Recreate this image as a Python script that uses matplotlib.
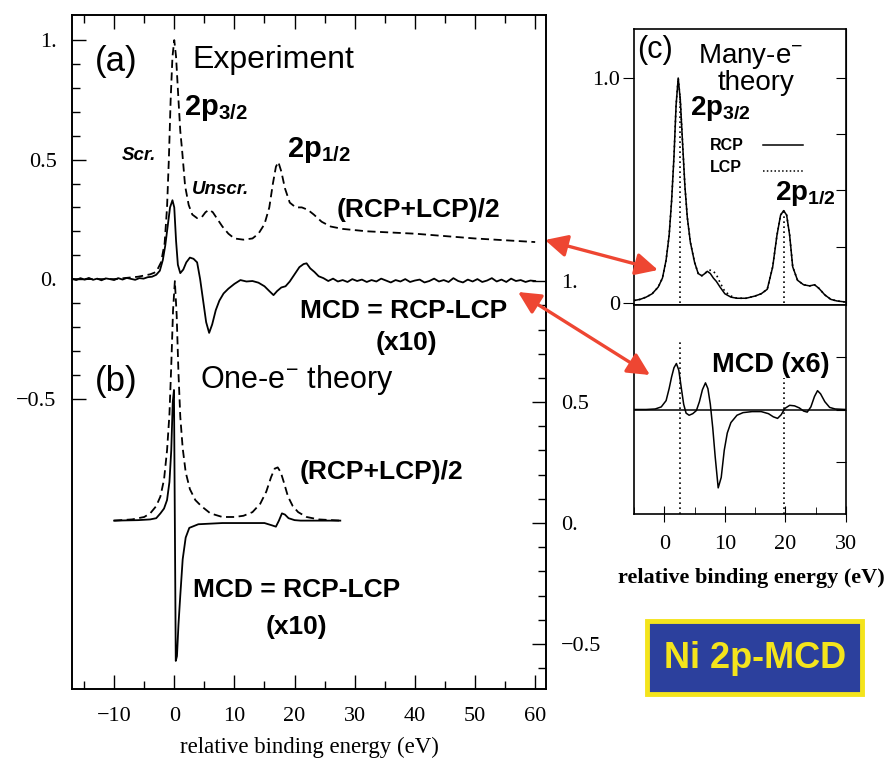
import numpy as np
import matplotlib.pyplot as plt
from matplotlib.patches import FancyArrowPatch, Rectangle
from matplotlib.lines import Line2D
from matplotlib.ticker import FixedLocator, FixedFormatter, MultipleLocator

plt.rcParams['font.family'] = ['Liberation Sans', 'DejaVu Sans']
plt.rcParams['mathtext.fontset'] = 'custom'
plt.rcParams['mathtext.rm'] = 'Liberation Sans'
plt.rcParams['mathtext.bf'] = 'Liberation Sans:bold'
plt.rcParams['mathtext.it'] = 'Liberation Sans:italic'

W, H = 895, 768
SERIF = 'Liberation Serif'

# ---- (a) experiment, left axis ----
exp_sum_E = [-17, -10, -6, -4, -3, -2.2, -1.6, -1.2, -0.9, -0.6, -0.3, 0.0, 0.3, 0.7, 1.0, 1.3,
             1.8, 2.4, 3.0, 3.8, 4.6, 5.2, 5.8, 6.4, 7.2, 8.0, 9.0, 10.0, 11.5, 13.0, 14.0, 15.0,
             15.8, 16.4, 16.9, 17.3, 17.8, 18.4, 19.2, 20.2, 21.2, 22.2, 23.2, 24.5, 26, 28, 32,
             40, 50, 60]
exp_sum = [0.0, 0.0, 0.01, 0.02, 0.03, 0.07, 0.15, 0.30, 0.50, 0.75, 0.93, 1.0, 0.93, 0.75, 0.62,
           0.54, 0.39, 0.31, 0.27, 0.255, 0.26, 0.28, 0.29, 0.28, 0.25, 0.22, 0.19, 0.17, 0.165,
           0.17, 0.19, 0.23, 0.30, 0.40, 0.47, 0.49, 0.45, 0.38, 0.32, 0.30, 0.30, 0.29, 0.27,
           0.24, 0.22, 0.21, 0.20, 0.19, 0.17, 0.155]

exp_mcd_E = [-17, -16.3, -15.6, -14.9, -14.2, -13.5, -12.8, -12.1, -11.4, -10.7, -10.0, -9.3,
             -8.6, -7.9, -7.2, -6.5, -5.8, -5.1, -4.4, -3.7, -3.0, -2.4, -1.9, -1.5, -1.1, -0.7,
             -0.3, 0.0, 0.3, 0.6, 1.0, 1.5, 2.0, 2.6, 3.2, 3.8, 4.3, 4.8, 5.3, 5.8, 6.3, 6.9,
             7.5, 8.2, 9.0, 10.0, 11.0, 12.0, 13.0, 14.0, 15.0, 15.8, 16.5, 17.1, 17.8, 18.5,
             19.2, 20.0, 20.8, 21.5, 22.0, 22.6, 23.3, 24.0, 24.8, 25.6, 26.4, 27.2, 28.0, 28.8,
             29.6, 30.4, 31.2, 32.0, 32.8, 33.6, 34.4, 35.2, 36.0, 36.8, 37.6, 38.4, 39.2, 40.0,
             40.8, 41.6, 42.4, 43.2, 44.0, 44.8, 45.6, 46.4, 47.2, 48.0, 48.8, 49.6, 50.4, 51.2,
             52.0, 52.8, 53.6, 54.4, 55.2, 56.0, 56.8, 57.6, 58.4, 59.2, 60.0]
exp_mcd = [0.002, -0.004, 0.004, -0.002, 0.005, -0.003, 0.002, -0.005, 0.003, 0.0, -0.004,
           0.004, -0.002, 0.005, 0.001, -0.003, 0.004, 0.002, 0.008, 0.01, 0.018, 0.035, 0.08,
           0.14, 0.22, 0.30, 0.33, 0.30, 0.16, 0.06, 0.025, 0.04, 0.07, 0.09, 0.085, 0.07, 0.0,
           -0.09, -0.18, -0.225, -0.19, -0.13, -0.09, -0.06, -0.04, -0.02, -0.004, -0.01, -0.008,
           -0.015, -0.03, -0.05, -0.067, -0.05, -0.035, -0.03, -0.01, 0.02, 0.05, 0.063, 0.066,
           0.045, 0.03, 0.012, 0.004, -0.008, 0.002, -0.01, -0.004, -0.012, 0.0, -0.008, -0.002,
           -0.012, -0.004, -0.01, 0.002, -0.006, -0.014, -0.004, -0.01, 0.0, -0.012, -0.006,
           -0.002, -0.014, -0.008, 0.002, -0.01, -0.004, -0.012, 0.004, -0.008, -0.014, -0.002,
           -0.01, 0.0, -0.012, -0.006, 0.004, -0.01, -0.002, -0.012, 0.002, -0.008, -0.004,
           -0.012, -0.006, -0.008]

# ---- (b) one-electron theory, right axis ----
one_sum_E = [-10, -7, -5, -4, -3, -2.3, -1.7, -1.2, -0.8, -0.5, -0.2, 0.1, 0.4, 0.7, 1.0, 1.4,
             1.9, 2.6, 3.5, 4.5, 6, 8, 10, 11.5, 13, 14.3, 15.3, 16.1, 16.7, 17.2, 17.7, 18.2,
             18.9, 19.7, 20.6, 22, 24, 27.6]
one_sum = [0.01, 0.015, 0.025, 0.04, 0.07, 0.11, 0.18, 0.30, 0.45, 0.65, 0.88, 1.0, 0.86, 0.62,
           0.44, 0.31, 0.21, 0.14, 0.095, 0.07, 0.04, 0.025, 0.025, 0.03, 0.045, 0.08, 0.13,
           0.19, 0.225, 0.23, 0.21, 0.17, 0.11, 0.07, 0.045, 0.025, 0.015, 0.01]
one_mcd_E = [-10, -6, -4, -3, -2.3, -1.7, -1.2, -0.8, -0.5, -0.25, -0.05, 0.1, 0.25, 0.45, 0.7,
             1.0, 1.4, 1.9, 2.5, 4, 8, 12, 15, 16.3, 16.9, 17.4, 17.9, 18.4, 19, 20, 21, 24, 27.6]
one_mcd = [0.01, 0.012, 0.015, 0.02, 0.04, 0.06, 0.095, 0.17, 0.3, 0.5, 0.55, 0.0, -0.57, -0.55,
           -0.42, -0.3, -0.15, -0.06, -0.02, -0.005, 0.0, 0.0, 0.0, -0.01, -0.015, 0.01, 0.04,
           0.035, 0.02, 0.012, 0.01, 0.01, 0.01]

# ---- (c) many-electron theory ----
c_E = [-5, -4, -3, -2, -1, -0.3, 0.3, 0.8, 1.2, 1.6, 1.95, 2.3, 2.65, 3.0, 3.4, 3.8, 4.3, 5.0,
       5.6, 6.2, 6.7, 7.1, 7.6, 8.1, 8.6, 9.2, 10, 11, 12, 13.5, 15, 16, 17, 17.9, 18.6, 19.2,
       19.7, 20.2, 20.7, 21.2, 22, 23, 24, 24.8, 25.5, 26.5, 27.5, 28.5, 30]
c_rcp = [0.01, 0.015, 0.025, 0.04, 0.07, 0.11, 0.19, 0.3, 0.45, 0.65, 0.88, 1.0, 0.9, 0.72,
         0.52, 0.38, 0.27, 0.18, 0.13, 0.12, 0.13, 0.14, 0.13, 0.11, 0.095, 0.07, 0.04, 0.025,
         0.02, 0.02, 0.03, 0.04, 0.06, 0.16, 0.3, 0.39, 0.41, 0.39, 0.3, 0.16, 0.1, 0.08, 0.075,
         0.08, 0.065, 0.035, 0.015, 0.008, 0.003]
c_lcp = [0.01, 0.015, 0.025, 0.04, 0.07, 0.11, 0.19, 0.3, 0.45, 0.65, 0.88, 1.0, 0.9, 0.72,
         0.52, 0.38, 0.27, 0.18, 0.13, 0.12, 0.13, 0.14, 0.145, 0.14, 0.125, 0.09, 0.05, 0.03,
         0.02, 0.02, 0.03, 0.04, 0.06, 0.16, 0.3, 0.39, 0.41, 0.39, 0.3, 0.16, 0.1, 0.08, 0.075,
         0.08, 0.065, 0.035, 0.015, 0.008, 0.003]
c_peaks = [2.6, 19.7]
c_peak_tops = [0.93, 0.41]
c_mcd_tops = [1.31, 0.6]

c_mcd_E = [-5, -3, -1.5, -0.5, 0.3, 0.8, 1.2, 1.6, 2.0, 2.4, 2.8, 3.2, 3.6, 4.1, 4.7, 5.3, 5.8,
           6.3, 6.8, 7.2, 7.6, 8.0, 8.4, 8.9, 9.4, 9.9, 10.4, 11, 12, 13, 14.5, 16, 17.2, 18.0,
           18.7, 19.3, 19.9, 20.7, 21.5, 22.3, 23.0, 23.6, 24.2, 24.8, 25.3, 25.8, 26.5, 27.3,
           28.2, 30]
c_mcd = [0, 0.0, 0.01, 0.05, 0.17, 0.4, 0.62, 0.8, 0.88, 0.75, 0.42, 0.1, -0.07, -0.11, -0.08,
         -0.02, 0.15, 0.38, 0.51, 0.4, 0.1, -0.35, -0.9, -1.5, -1.3, -0.78, -0.45, -0.25, -0.11,
         -0.06, -0.04, -0.04, -0.08, -0.14, -0.17, -0.1, 0.02, 0.08, 0.07, 0.03, -0.03, -0.05,
         0.05, 0.25, 0.36, 0.3, 0.15, 0.04, 0.01, 0.0]

# red arrows (pixel coords, both ends)
arrows = [(545, 240, 658, 270), (518, 292, 650, 375)]

fig = plt.figure(figsize=(W / 100, H / 100), dpi=100)


def box(x0, y0, x1, y1):
    return [x0 / W, 1 - y1 / H, (x1 - x0) / W, (y1 - y0) / H]


def t(x, y, s, va='center', **kw):
    fig.text(x / W, 1 - y / H, s, va=va, **kw)


# ---------- left panel (a) + (b) ----------
ax = fig.add_axes(box(72, 15, 546, 689))
axr = ax.twinx()
dash = dict(color='k', lw=1.3, ls=(0, (4.5, 2.5)))
ax.plot(exp_sum_E, exp_sum, **dash)
ax.plot(exp_mcd_E, exp_mcd, color='k', lw=1.3)
axr.plot(one_sum_E, one_sum, **dash)
axr.plot(one_mcd_E, one_mcd, color='k', lw=1.3)

ax.set_xlim(-17, 61.8)
ax.set_ylim(-1.715, 1.105)
axr.set_ylim(-0.686, 2.10)

ax.xaxis.set_major_locator(MultipleLocator(10))
ax.xaxis.set_minor_locator(MultipleLocator(5))
ax.tick_params(axis='x', which='both', direction='in', top=True, labelsize=16,
               labelfontfamily=SERIF, pad=13)
ax.tick_params(axis='x', which='major', length=10, width=1)
ax.tick_params(axis='x', which='minor', length=6, width=1)

for a, side in ((ax, 'left'), (axr, 'right')):
    a.yaxis.set_major_locator(FixedLocator([-0.5, 0, 0.5, 1.0]))
    a.yaxis.set_major_formatter(FixedFormatter(['\u22120.5', '0.', '0.5', '1.']))
    lo = -0.5 if side == 'left' else -0.6
    a.yaxis.set_minor_locator(FixedLocator(np.round(np.arange(lo, 1.05, 0.1), 2)))
    a.tick_params(axis='y', which='both', direction='in', labelsize=16,
                  labelfontfamily=SERIF, pad=11)
    a.tick_params(axis='y', which='major', length=10, width=1)
    a.tick_params(axis='y', which='minor', length=6, width=1)
for a in (ax, axr):
    for sp in a.spines.values():
        sp.set_linewidth(1.2)

ax.set_xlabel('relative binding energy (eV)', fontfamily=SERIF, fontsize=16.5, labelpad=8)

# ---------- right panel (c) ----------
axc = fig.add_axes(box(634, 29, 846, 305))
axm = fig.add_axes(box(634, 305, 846, 514), sharex=axc)

axc.plot(c_E, c_rcp, color='k', lw=1.1)
axc.plot(c_E, c_lcp, color='k', lw=1.2, ls=(0, (1, 2)))
axc.vlines(c_peaks, 0, c_peak_tops, colors='k', lw=1.2, linestyles=(0, (1, 2)))
axc.set_xlim(-5, 30)
axc.set_ylim(-0.01, 1.218)
axc.yaxis.set_major_locator(FixedLocator([0, 1.0]))
axc.yaxis.set_major_formatter(FixedFormatter(['0', '1.0']))
axc.tick_params(axis='y', direction='out', length=8, labelsize=16, labelfontfamily=SERIF, pad=2)
axc.tick_params(axis='x', bottom=False, labelbottom=False)
sec = axc.secondary_yaxis('right')
sec.set_yticks([0.25, 0.5, 0.75, 1.0])
sec.tick_params(direction='in', length=7, labelright=False)

axm.plot(c_mcd_E, c_mcd, color='k', lw=1.1)
axm.axhline(0, color='k', lw=1.1)
axm.vlines(c_peaks, -2, c_mcd_tops, colors='k', lw=1.2, linestyles=(0, (1, 2)))
axm.set_ylim(-2, 2)
axm.tick_params(axis='y', left=False, labelleft=False, right=True, direction='in', length=7)
axm.yaxis.set_major_locator(FixedLocator([-1, 0, 1]))
axm.xaxis.set_major_locator(MultipleLocator(10))
axm.xaxis.set_minor_locator(MultipleLocator(5))
axm.tick_params(axis='x', which='major', direction='inout', length=12, labelsize=16,
                labelfontfamily=SERIF, pad=9)
axm.tick_params(axis='x', which='minor', direction='in', length=5)
for a in (axc, axm):
    for sp in a.spines.values():
        sp.set_linewidth(1.2)

# ---------- texts ----------
t(95, 62, '(a)', fontsize=25)
t(192, 60, 'Experiment', fontsize=23)
t(184, 115, '2p$_{\\mathbf{3/2}}$', va='baseline', fontsize=21, fontweight='bold')
t(122, 155, 'Scr.', fontsize=13.5, fontweight='bold', fontstyle='italic')
t(192, 190, 'Unscr.', fontsize=13.5, fontweight='bold', fontstyle='italic')
t(287, 157, '2p$_{\\mathbf{1/2}}$', va='baseline', fontsize=21, fontweight='bold')
t(337, 210, '(RCP+LCP)/2', fontsize=19, fontweight='bold')
t(404, 311, 'MCD = RCP-LCP', fontsize=19, fontweight='bold', ha='center')
t(406, 343, '(x10)', fontsize=19, fontweight='bold', ha='center')
t(95, 382, '(b)', fontsize=25)
t(200, 388, 'One-e$^{-}$ theory', va='baseline', fontsize=22)
t(300, 472, '(RCP+LCP)/2', fontsize=19, fontweight='bold')
t(297, 590, 'MCD = RCP-LCP', fontsize=19, fontweight='bold', ha='center')
t(296, 627, '(x10)', fontsize=19, fontweight='bold', ha='center')

t(637, 50, '(c)', fontsize=22)
t(698, 63, 'Many-e$^{-}$', va='baseline', fontsize=20)
t(718, 90, 'theory', va='baseline', fontsize=20)
t(690, 115, '2p$_{\\mathbf{3/2}}$', va='baseline', fontsize=20, fontweight='bold')
t(710, 145, 'RCP', fontsize=11.5, fontweight='bold')
t(710, 168, 'LCP', fontsize=11.5, fontweight='bold')
fig.add_artist(Line2D([763 / W, 803 / W], [1 - 145 / H, 1 - 145 / H], color='k', lw=1.1))
fig.add_artist(Line2D([763 / W, 803 / W], [1 - 171 / H, 1 - 171 / H], color='k', lw=1.1,
                      ls=(0, (1, 1.5))))
t(775, 200, '2p$_{\\mathbf{1/2}}$', va='baseline', fontsize=20, fontweight='bold')
t(712, 365, 'MCD (x6)', fontsize=19.5, fontweight='bold')
t(751, 578, 'relative binding energy (eV)', ha='center', fontsize=16,
  fontweight='bold', fontfamily=SERIF)

for x0, y0, x1, y1 in arrows:
    fig.add_artist(FancyArrowPatch((x0 / W, 1 - y0 / H), (x1 / W, 1 - y1 / H),
                                   transform=fig.transFigure,
                                   arrowstyle='<|-|>,head_length=0.9,head_width=0.45',
                                   mutation_scale=15, color='#ee4632', lw=2.4,
                                   shrinkA=0, shrinkB=0, zorder=10))

fig.add_artist(Rectangle((647 / W, 1 - 694 / H), 215 / W, 73 / H, transform=fig.transFigure,
                         facecolor='#2c409d', edgecolor='#f4e41c', lw=3.5))
t(755, 659, 'Ni 2p-MCD', ha='center', fontsize=26, fontweight='bold', color='#f4e41c')

fig.savefig('out.png', dpi=100)
